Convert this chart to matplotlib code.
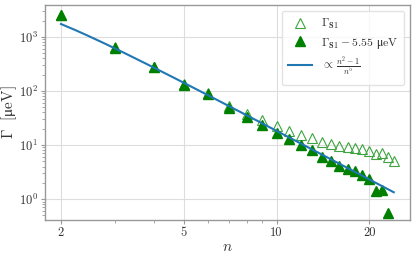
import numpy as np
import matplotlib
matplotlib.use("Agg")
import matplotlib.pyplot as plt
from matplotlib.ticker import FixedLocator, NullFormatter, LogLocator

plt.rcParams['mathtext.fontset'] = 'cm'
plt.rcParams['font.family'] = ['cmr10', 'DejaVu Serif']
plt.rcParams['axes.unicode_minus'] = False
plt.rcParams['axes.formatter.use_mathtext'] = True

# Data
n_all = np.arange(2, 25)
gamma_s1 = [2556, 639, 281, 135, 93, 53.5, 38.3, 29.5, 22.5, 18.4, 15.4,
            13.5, 11.6, 10.6, 9.6, 9.1, 8.9, 8.3, 7.9, 6.95, 7.05, 6.1, 5.05]
offset = 5.55
fit_C = 18500.0
x_ticks = [2, 5, 10, 20]

gamma_s1 = np.array(gamma_s1, dtype=float)
gamma_sub = gamma_s1 - offset
mask = gamma_sub > 0

fig = plt.figure(figsize=(4.15, 2.57), dpi=100)
ax = fig.add_axes([0.1084, 0.144, 0.8796, 0.8366])

ax.plot(n_all, gamma_s1, linestyle='none', marker='^', ms=7,
        mfc='none', mec='#3fa33f', mew=0.8, label=r'$\Gamma_{\mathbf{S1}}$', zorder=3)
ax.plot(n_all[mask], gamma_sub[mask], linestyle='none', marker='^', ms=7,
        color='green', label='$\\Gamma_{\\mathbf{S1}} - 5.55\\ \\mathrm{\u03bceV}$', zorder=4)
nn = np.linspace(2, 24, 200)
ax.plot(nn, fit_C * (nn**2 - 1) / nn**5, color='#1f77b4', lw=1.5,
        label=r'$\propto\,\frac{n^2-1}{n^5}$', zorder=5)

ax.set_xscale('log')
ax.set_yscale('log')
ax.set_xlim(1.775, 27.1)
ax.set_ylim(0.41, 3900)
ax.xaxis.set_major_locator(FixedLocator(x_ticks))
ax.set_xticklabels([str(t) for t in x_ticks])
ax.xaxis.set_minor_formatter(NullFormatter())
ax.yaxis.set_major_locator(LogLocator(base=10, numticks=10))

ax.grid(True, which='major', color='#dddddd', lw=0.8)
for s in ax.spines.values():
    s.set_color('#999999')
    s.set_linewidth(1.0)
ax.tick_params(which='both', colors='#999999', labelcolor='#333333', labelsize=9)
ax.tick_params(which='major', length=3, pad=2)
ax.tick_params(which='minor', length=2)

ax.set_xlabel(r'$n$', fontsize=11, color='#333333', labelpad=1)
ax.set_ylabel('$\\Gamma\\ \\ [\\mathrm{\u03bceV}]$', fontsize=11, color='#333333')
ax.yaxis.set_label_coords(-0.07, 0.5)

leg = ax.legend(loc='upper right', fontsize=8.5, frameon=True, fancybox=True,
                edgecolor='#dddddd', handlelength=2.0, borderpad=0.5, labelspacing=0.4)
for t in leg.get_texts():
    t.set_color('#333333')

fig.savefig('out.png', dpi=100)
